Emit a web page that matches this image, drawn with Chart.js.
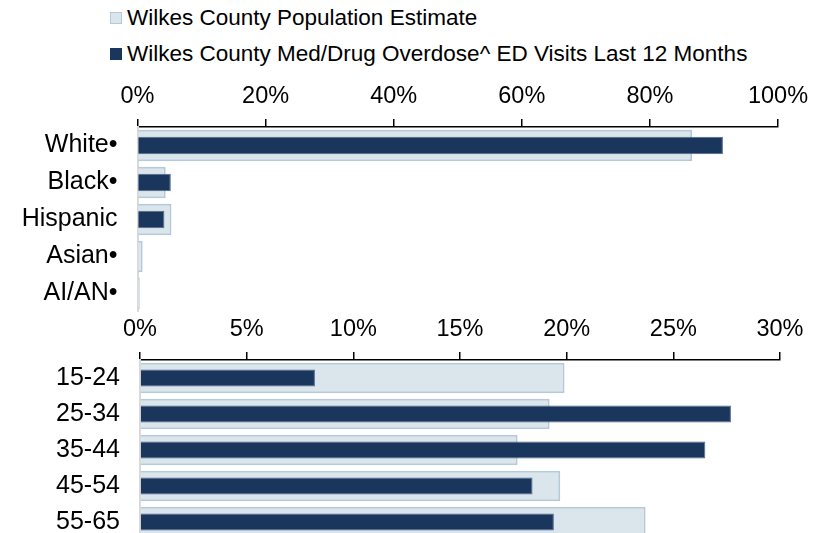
<!DOCTYPE html>
<html>
<head>
<meta charset="utf-8">
<script src="https://cdn.jsdelivr.net/npm/chart.js@4"></script>
<style>
  body { margin: 0; width: 827px; height: 533px; overflow: hidden; background: #fff; position: relative; font-family: "Liberation Sans", Arial, sans-serif; }
  .legend { position: absolute; left: 110px; font-size: 22.5px; color: #000; line-height: 26px; white-space: nowrap; }
  .legend span { display: inline-block; width: 12px; height: 12px; margin-right: 5px; vertical-align: 1px; box-sizing: border-box; }
  #c1wrap { position: absolute; left: 0; top: 75px; width: 827px; height: 237px; }
  #c2wrap { position: absolute; left: 0; top: 308px; width: 827px; height: 232px; }
</style>
</head>
<body>
<div class="legend" style="top:5px"><span style="background:#dbe5ec;border:1px solid #b5c9d8"></span>Wilkes County Population Estimate</div>
<div class="legend" style="top:41px"><span style="background:#1b365d"></span>Wilkes County Med/Drug Overdose^ ED Visits Last 12 Months</div>
<div id="c1wrap"><canvas id="raceChart"></canvas></div>
<div id="c2wrap"><canvas id="ageChart"></canvas></div>
<script>
// race panel
const raceLabels = ['White•', 'Black•', 'Hispanic', 'Asian•', 'AI/AN•'];
const racePop = [86.6, 4.4, 5.3, 0.8, 0.35];
const raceED = [91.4, 5.2, 4.2, 0, 0];
const raceTicks = [0, 20, 40, 60, 80, 100];

// age panel
const ageLabels = ['15-24', '25-34', '35-44', '45-54', '55-65'];
const agePop = [19.9, 19.2, 17.7, 19.7, 23.7];
const ageED = [8.2, 27.7, 26.5, 18.4, 19.4];
const ageTicks = [0, 5, 10, 15, 20, 25, 30];

const family = '"Liberation Sans", Arial, sans-serif';
const tickFont = { family: family, size: 23.5 };
const catFont = { family: family, size: 25 };

function makeChart(id, labels, pop, ed, ticks, leftW, rightPad) {
    return new Chart(document.getElementById(id), {
        type: 'bar',
        data: {
            labels: labels,
            datasets: [{
                label: 'Wilkes County Med/Drug Overdose^ ED Visits Last 12 Months',
                data: ed,
                backgroundColor: '#1b365d',
                borderColor: '#4d6a88',
                borderWidth: 1,
                barPercentage: 0.47,
                categoryPercentage: 1,
                order: 0
            }, {
                label: 'Wilkes County Population Estimate',
                data: pop,
                backgroundColor: '#dbe5ec',
                borderColor: '#b5c9d8',
                borderWidth: 2,
                barPercentage: 0.85,
                categoryPercentage: 1,
                order: 1
            }]
        },
        options: {
            indexAxis: 'y',
            responsive: true,
            maintainAspectRatio: false,
            animation: false,
            grouped: false,
            layout: { autoPadding: false, padding: { left: 0, right: rightPad, top: 0, bottom: 0 } },
            plugins: { legend: { display: false }, tooltip: { enabled: false } },
            scales: {
                x: {
                    position: 'top',
                    min: ticks[0],
                    max: ticks[ticks.length - 1],
                    afterBuildTicks: s => { s.ticks = ticks.map(v => ({ value: v })); },
                    ticks: {
                        font: tickFont,
                        color: '#000',
                        padding: 8,
                        callback: v => v + '%'
                    },
                    grid: { drawOnChartArea: false, drawTicks: true, tickLength: 8, color: '#000', lineWidth: 1.5 },
                    border: { display: true, color: '#000', width: 1.5 },
                    afterFit: s => { s.height = 52; s.paddingLeft = 0; s.paddingRight = 0; }
                },
                y: {
                    ticks: { font: catFont, color: '#000', padding: 20, autoSkip: false },
                    grid: { display: false, drawTicks: false },
                    border: { display: true, color: '#d9d9d9', width: 2 },
                    afterFit: s => { s.width = leftW; s.paddingTop = 0; s.paddingBottom = 0; }
                }
            }
        }
    });
}

makeChart('raceChart', raceLabels, racePop, raceED, raceTicks, 137.5, 49);
makeChart('ageChart', ageLabels, agePop, ageED, ageTicks, 140, 47);
</script>
</body>
</html>
